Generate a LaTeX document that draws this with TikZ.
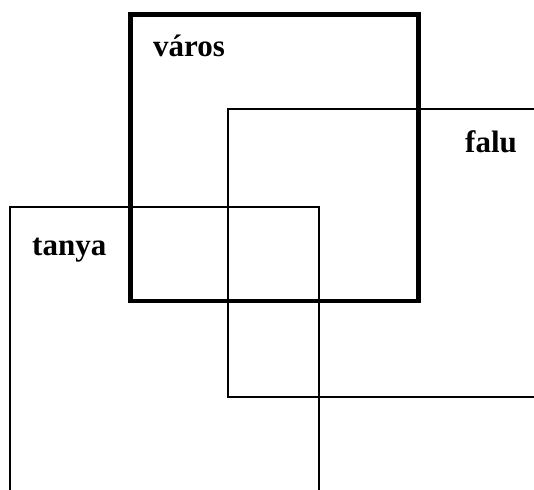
\documentclass[tikz,border=0pt]{standalone}
\usepackage{fontspec}
\setmainfont{Liberation Serif}
\usepackage{tikz}

\tikzset{
  varoskeret/.style={line width=4.8pt},
  falukeret/.style={line width=2.6pt},
  tanyakeret/.style={line width=1.6pt},
  felirat/.style={anchor=base west, inner sep=0pt, font=\fontsize{31}{36}\selectfont\bfseries}
}

\begin{document}
\begin{tikzpicture}[x=1pt, y=-1pt]
\useasboundingbox (0,0) rectangle (534,489);
\clip (0,0) rectangle (534,489);
% keretek
\draw [tanyakeret] (10,500) -- (10,207) -- (319,207) -- (319,500);
\draw [falukeret] (545,109) -- (228,109) -- (228,397) -- (545,397);
\draw [varoskeret] (130.5,14.5) rectangle (418.5,301);
% feliratok
\node [felirat] (varos) at (153,57) {város};
\node [felirat] (falu) at (465,152) {falu};
\node [felirat] (tanya) at (32,255) {tanya};
\end{tikzpicture}
\end{document}
